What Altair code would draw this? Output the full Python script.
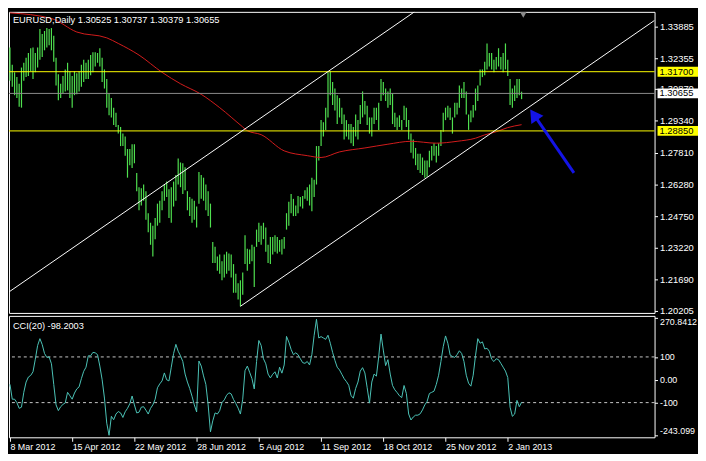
import json
import altair as alt
import pandas as pd

# ---------------- data ----------------
symbol_text = "EURUSD,Daily  1.30525 1.30737 1.30379 1.30655"
cci_text = "CCI(20) -98.2003"

highs = [
    1.3287, 1.3204, 1.3167, 1.3144, 1.3112, 1.3190, 1.3213, 1.3237, 1.3260, 1.3283,
    1.3287, 1.3260, 1.3287, 1.3375, 1.3352, 1.3366, 1.3380, 1.3375, 1.3380, 1.3343,
    1.3237, 1.3158, 1.3112, 1.3149, 1.3181, 1.3213, 1.3172, 1.3149, 1.3172, 1.3163,
    1.3172, 1.3204, 1.3227, 1.3213, 1.3227, 1.3250, 1.3264, 1.3264, 1.3260, 1.3283,
    1.3237, 1.3181, 1.3135, 1.3066, 1.3043, 1.2997, 1.2973, 1.2913, 1.2904, 1.2872,
    1.2858, 1.2798, 1.2798, 1.2821, 1.2821, 1.2683, 1.2614, 1.2609, 1.2627, 1.2595,
    1.2489, 1.2443, 1.2429, 1.2466, 1.2535, 1.2549, 1.2595, 1.2627, 1.2641, 1.2604,
    1.2614, 1.2641, 1.2673, 1.2752, 1.2733, 1.2729, 1.2710, 1.2595, 1.2567, 1.2558,
    1.2549, 1.2521, 1.2687, 1.2673, 1.2660, 1.2627, 1.2595, 1.2535, 1.2350, 1.2327,
    1.2281, 1.2290, 1.2258, 1.2290, 1.2304, 1.2295, 1.2290, 1.2244, 1.2198, 1.2152,
    1.2166, 1.2203, 1.2383, 1.2318, 1.2314, 1.2337, 1.2327, 1.2410, 1.2443, 1.2429,
    1.2443, 1.2420, 1.2337, 1.2374, 1.2374, 1.2383, 1.2374, 1.2360, 1.2364, 1.2374,
    1.2489, 1.2544, 1.2581, 1.2558, 1.2526, 1.2572, 1.2567, 1.2572, 1.2600, 1.2614,
    1.2627, 1.2660, 1.2650, 1.2812, 1.2812, 1.2937, 1.2927, 1.2997, 1.3167, 1.3172,
    1.3121, 1.3089, 1.3057, 1.3043, 1.2997, 1.2964, 1.2937, 1.2918, 1.2918, 1.2904,
    1.2964, 1.2937, 1.3010, 1.3075, 1.3029, 1.3006, 1.2950, 1.2950, 1.2997, 1.2997,
    1.3020, 1.3135, 1.3121, 1.3089, 1.3075, 1.3089, 1.3066, 1.2973, 1.2950, 1.2960,
    1.2937, 1.3006, 1.2997, 1.2937, 1.2872, 1.2844, 1.2803, 1.2775, 1.2775, 1.2757,
    1.2743, 1.2743, 1.2789, 1.2812, 1.2826, 1.2812, 1.2826, 1.2890, 1.2973, 1.2997,
    1.3006, 1.2997, 1.2950, 1.3020, 1.3020, 1.3103, 1.3089, 1.3121, 1.3075, 1.2964,
    1.2983, 1.3010, 1.3089, 1.3103, 1.3181, 1.3181, 1.3218, 1.3306, 1.3260, 1.3260,
    1.3227, 1.3241, 1.3283, 1.3241, 1.3260, 1.3306, 1.3227, 1.3135, 1.3089, 1.3103,
    1.3135, 1.3135, 1.30737,
]

lows = [
    1.3126, 1.3098, 1.3057, 1.3043, 1.3001, 1.2997, 1.3126, 1.3144, 1.3149, 1.3172,
    1.3135, 1.3167, 1.3190, 1.3227, 1.3241, 1.3273, 1.3287, 1.3297, 1.3273, 1.3218,
    1.3103, 1.3033, 1.3043, 1.3066, 1.3075, 1.3080, 1.3043, 1.2997, 1.3057, 1.3061,
    1.3075, 1.3098, 1.3121, 1.3135, 1.3135, 1.3153, 1.3167, 1.3195, 1.3213, 1.3195,
    1.3121, 1.3089, 1.2997, 1.2960, 1.2950, 1.2913, 1.2904, 1.2872, 1.2812, 1.2812,
    1.2766, 1.2660, 1.2720, 1.2706, 1.2729, 1.2595, 1.2503, 1.2526, 1.2549, 1.2457,
    1.2397, 1.2337, 1.2281, 1.2364, 1.2429, 1.2443, 1.2503, 1.2549, 1.2567, 1.2466,
    1.2443, 1.2521, 1.2549, 1.2627, 1.2614, 1.2581, 1.2600, 1.2503, 1.2475, 1.2443,
    1.2457, 1.2420, 1.2535, 1.2558, 1.2549, 1.2503, 1.2475, 1.2420, 1.2249, 1.2249,
    1.2212, 1.2198, 1.2166, 1.2180, 1.2198, 1.2212, 1.2180, 1.2106, 1.2106, 1.2074,
    1.2041, 1.2097, 1.2244, 1.2212, 1.2244, 1.2258, 1.2134, 1.2327, 1.2350, 1.2337,
    1.2364, 1.2304, 1.2249, 1.2244, 1.2290, 1.2304, 1.2295, 1.2304, 1.2290, 1.2318,
    1.2410, 1.2429, 1.2489, 1.2475, 1.2475, 1.2489, 1.2521, 1.2512, 1.2558, 1.2549,
    1.2526, 1.2498, 1.2567, 1.2627, 1.2743, 1.2812, 1.2858, 1.2890, 1.2950, 1.3057,
    1.3010, 1.2983, 1.2918, 1.2950, 1.2918, 1.2844, 1.2858, 1.2844, 1.2826, 1.2812,
    1.2858, 1.2844, 1.2918, 1.2950, 1.2964, 1.2913, 1.2872, 1.2858, 1.2918, 1.2937,
    1.2890, 1.3029, 1.3057, 1.3029, 1.2997, 1.3010, 1.2918, 1.2904, 1.2890, 1.2904,
    1.2890, 1.2937, 1.2904, 1.2844, 1.2780, 1.2752, 1.2720, 1.2697, 1.2683, 1.2673,
    1.2660, 1.2665, 1.2710, 1.2743, 1.2766, 1.2733, 1.2766, 1.2812, 1.2881, 1.2937,
    1.2950, 1.2937, 1.2872, 1.2950, 1.2964, 1.2997, 1.3043, 1.3043, 1.2964, 1.2890,
    1.2927, 1.2950, 1.2983, 1.3029, 1.3103, 1.3144, 1.3153, 1.3181, 1.3195, 1.3181,
    1.3167, 1.3181, 1.3195, 1.3181, 1.3167, 1.3181, 1.3149, 1.3010, 1.2997, 1.3029,
    1.3043, 1.3057, 1.30379,
]

cci = [
    -20, -85, -85, -100, -125, -120, -55, -10, 12, 19,
    35, 90, 150, 180, 154, 115, 98, 100, 70, -20,
    -110, -135, -118, -108, -101, -55, -70, -85, -58, -40,
    -31, 5, 37, 55, 105, 105, 120, 118, 110, 60,
    0, -80, -190, -243, -160, -175, -150, -139, -145, -165,
    -140, -125, -105, -71, -110, -145, -142, -120, -118, -133,
    -150, -125, -110, -85, -35, -18, -5, 30, 0, -5,
    55, 115, 155, 125, 105, 80, 25, -10, -38, -72,
    -110, -141, 82, 60, 17, -20, -110, -228, -180, -145,
    -150, -135, -100, -88, -68, -57, -62, -86, -104, -124,
    -150, -85, 40, 60, 33, 5, -40, 80, 172, 150,
    92, 70, 25, 8, 24, 35, 8, 55, 29, 65,
    190, 165, 133, 110, 118, 110, 92, 75, 72, 80,
    65, 110, 195, 265, 183, 189, 183, 177, 195, 160,
    120, 85, 55, 43, 24, 5, -8, -24, -70, -80,
    -38, -10, 38, 53, 30, -35, -102, -10, 25, 16,
    100, 200, 130, 62, 88, 25, -25, -44, -56, -70,
    -78, -25, -60, -150, -176, -163, -155, -155, -149, -132,
    -110, -95, -60, -55, -50, -20, 20, 80, 145, 192,
    160, 108, 102, 98, 110, 127, 115, 80, 20, -15,
    -28, 20, 105, 180, 160, 166, 135, 138, 125, 90,
    80, 92, 88, 72, 55, 38, 10, -120, -160, -150,
    -90, -118, -98.2003,
]

ma_bar = [0, 18, 29, 42, 47, 56, 66, 74, 83, 91, 101, 103, 109, 119, 129, 135,
          143, 154, 164, 174, 185, 194, 202, 206, 211, 216, 222]
ma_val = [1.3453, 1.3426, 1.3361, 1.3333, 1.3306, 1.3250, 1.3167, 1.3112, 1.3061,
          1.2997, 1.2904, 1.2886, 1.2867, 1.2789, 1.2766, 1.2757, 1.2784, 1.2803,
          1.2821, 1.2835, 1.2826, 1.2835, 1.2850, 1.2866, 1.2881, 1.2901, 1.2915]

date_bars = [0, 27, 54, 81, 108, 135, 162, 189, 216]
date_labels = ["8 Mar 2012", "15 Apr 2012", "22 May 2012", "28 Jun 2012", "5 Aug 2012",
               "11 Sep 2012", "18 Oct 2012", "25 Nov 2012", "2 Jan 2013"]

price_ticks = [1.33885, 1.32355, 1.30870, 1.29340, 1.27810, 1.26280, 1.24750,
               1.23220, 1.21690, 1.20205]
yellow_levels = [1.31700, 1.28850]
bid_level = 1.30655

cci_ticks = [-243.099, -100, 0, 100, 270.8412]
cci_levels = [100, -100]

# trend channel anchors (bar, price): start and end of each line
channel_bar_start = [-0.42, 100]
channel_price_start = [1.2110, 1.2041]
channel_bar_end = [175.5, 279.7]
channel_price_end = [1.3458, 1.3417]

# blue arrow: tail and head (bar, price)
arrow_bar = [244.7, 227.3]
arrow_price = [1.2683, 1.2963]

x_domain = [-0.42, 279.7]
price_domain = [1.2009, 1.3458]
cci_domain = [-251.9, 279.7]

assert len(highs) == len(lows) == len(cci)

# ---------------- styling ----------------
W, H1, H2 = 654, 305, 123
FONT = "Liberation Sans"
GREEN = "#4fe04f"
RED = "#d41c1c"
BLUE = "#1414e6"
CCI_COLOR = "#4cc4b8"
EXT = 60          # filler marks fix the drawing's bounds at -EXT (left/top)
RIGHT_END = W + 110
BOTTOM_EXTRA = 60

xs = alt.Scale(domain=x_domain, nice=False, zero=False)
ys = alt.Scale(domain=price_domain, nice=False, zero=False)
cs = alt.Scale(domain=cci_domain, nice=False, zero=False)

price_axis = alt.Axis(orient="right", values=price_ticks, format=".5f", title=None,
                      grid=False, domain=False, tickColor="white", tickSize=3,
                      labelColor="white", labelFont=FONT, labelFontSize=9.5,
                      labelPadding=2, labelOverlap=False)


def PY(field):
    return alt.Y(field, scale=ys, axis=price_axis)


one = pd.DataFrame({"t": [""]})

# black filler marks outside the visible area: they pin the drawing's bounds so
# the padding below can crop it to exactly the window size
fill_tl = alt.Chart(one).mark_rect(color="black", clip=False).encode(
    x=alt.value(-EXT), x2=alt.value(-EXT + 1), y=alt.value(-EXT), y2=alt.value(-EXT + 1))
fill_r = alt.Chart(one).mark_rect(color="black", clip=False).encode(
    x=alt.value(RIGHT_END - 1), x2=alt.value(RIGHT_END), y=alt.value(-EXT),
    y2=alt.value(-EXT + 1))

bars_df = pd.DataFrame({"bar": list(range(len(highs))), "high": highs, "low": lows})
bars = alt.Chart(bars_df).mark_rule(color=GREEN, strokeWidth=1.2).encode(
    x=alt.X("bar:Q", scale=xs, axis=None),
    y=PY("high:Q"),
    y2="low:Q",
)

ma = alt.Chart(pd.DataFrame({"bar": ma_bar, "ma": ma_val})).mark_line(
    color=RED, strokeWidth=1, interpolate="monotone").encode(
    x=alt.X("bar:Q", scale=xs, axis=None),
    y=PY("ma:Q"),
)

yellow = alt.Chart(pd.DataFrame({"p": yellow_levels})).mark_rule(
    color="#ffff00", strokeWidth=1).encode(y=PY("p:Q"))

bid = alt.Chart(pd.DataFrame({"p": [bid_level]})).mark_rule(
    color="#8c8c8c", strokeWidth=1).encode(y=PY("p:Q"))

chan_df = pd.DataFrame({"x0": channel_bar_start, "y0": channel_price_start,
                        "x1": channel_bar_end, "y1": channel_price_end})
channels = alt.Chart(chan_df).mark_rule(color="white", strokeWidth=1, clip=True).encode(
    x=alt.X("x0:Q", scale=xs, axis=None), x2="x1:Q",
    y=PY("y0:Q"), y2="y1:Q",
)

arrow_df = pd.DataFrame({"x0": [arrow_bar[0]], "y0": [arrow_price[0]],
                         "x1": [arrow_bar[1]], "y1": [arrow_price[1]]})
shaft = alt.Chart(arrow_df).mark_rule(color=BLUE, strokeWidth=3).encode(
    x=alt.X("x0:Q", scale=xs, axis=None), x2="x1:Q",
    y=PY("y0:Q"), y2="y1:Q",
)
head = alt.Chart(arrow_df).mark_point(shape="triangle-up", filled=True, size=220,
                                      angle=325.7, color=BLUE, opacity=1).encode(
    x=alt.X("x1:Q", scale=xs, axis=None),
    y=PY("y1:Q"),
)

tags_df = pd.DataFrame({
    "p": [yellow_levels[0], bid_level, yellow_levels[1]],
    "bg": ["#ffff00", "#ffffff", "#ffff00"],
})
tags_df["t"] = [f"{v:.5f}" for v in tags_df["p"]]
tag_box = alt.Chart(tags_df).mark_rect(clip=False, yOffset=-5, y2Offset=5).encode(
    x=alt.value(W + 3), x2=alt.value(W + 46),
    y=PY("p:Q"), y2=alt.Y2("p:Q"),
    color=alt.Color("bg:N", scale=None, legend=None),
)
tag_text = alt.Chart(tags_df).mark_text(align="left", baseline="middle", font=FONT,
                                        fontSize=9.5, color="black", clip=False).encode(
    x=alt.value(W + 5), y=PY("p:Q"), text="t:N",
)

title_txt = alt.Chart(pd.DataFrame({"t": [symbol_text]})).mark_text(
    align="left", baseline="middle", font=FONT, fontSize=9.4, color="white").encode(
    x=alt.value(4), y=alt.value(8), text="t:N")

shift_marker = alt.Chart(one).mark_point(
    shape="triangle-down", filled=True, color="#8a8a8a", size=45, opacity=1).encode(
    x=alt.value(521), y=alt.value(3))

main = alt.layer(fill_tl, fill_r, bars, ma, yellow, bid, channels, shaft, head, tag_box,
                 tag_text, title_txt, shift_marker).properties(width=W, height=H1)

# ---------------- CCI panel ----------------
date_expr = f"{json.dumps(date_labels)}[indexof({json.dumps(date_bars)}, datum.value)]"
x_axis = alt.Axis(orient="bottom", values=date_bars, labelExpr=date_expr, title=None,
                  grid=False, domain=False, tickColor="white", tickSize=4,
                  labelColor="white", labelFont=FONT, labelFontSize=9, labelAlign="left",
                  labelPadding=1, labelFlush=False, labelOverlap=False)
cci_axis = alt.Axis(orient="right", values=cci_ticks, title=None, grid=False,
                    domain=False, tickColor="white", tickSize=3, labelColor="white",
                    labelFont=FONT, labelFontSize=9, labelPadding=2, labelFlush=10,
                    labelOverlap=False,
                    labelExpr="datum.value == 0 ? '0.00' : '' + datum.value")

cci_df = pd.DataFrame({"bar": list(range(len(cci))), "cci": cci})
cci_line = alt.Chart(cci_df).mark_line(color=CCI_COLOR, strokeWidth=1).encode(
    x=alt.X("bar:Q", scale=xs, axis=x_axis),
    y=alt.Y("cci:Q", scale=cs, axis=cci_axis),
)
cci_lv = alt.Chart(pd.DataFrame({"v": cci_levels})).mark_rule(
    color="#c8c8c8", strokeDash=[3, 3], strokeWidth=1).encode(
    y=alt.Y("v:Q", scale=cs, axis=cci_axis))
cci_lbl = alt.Chart(pd.DataFrame({"t": [cci_text]})).mark_text(
    align="left", baseline="middle", font=FONT, fontSize=9.3, color="white").encode(
    x=alt.value(4), y=alt.value(10), text="t:N")
fill_b = alt.Chart(one).mark_rect(color="black", clip=False).encode(
    x=alt.value(0), x2=alt.value(1), y=alt.value(H2 + BOTTOM_EXTRA - 1),
    y2=alt.value(H2 + BOTTOM_EXTRA))

cci_chart = alt.layer(fill_b, cci_lv, cci_line, cci_lbl).properties(width=W, height=H2)

# bounds: x in [-EXT, RIGHT_END], y in [-EXT, H1 + 3 + H2 + BOTTOM_EXTRA]
# crop to 697 x 444 with the plot's top-left corner at the drawing's origin
SVG_W, SVG_H = 697, 444
pad = {
    "left": -EXT,
    "top": -EXT,
    "right": SVG_W - RIGHT_END,
    "bottom": SVG_H - (H1 + 3 + H2 + BOTTOM_EXTRA),
}

chart = alt.vconcat(main, cci_chart, spacing=3, bounds="flush").properties(
    padding=pad, background="#000000",
).configure_view(stroke="white", strokeWidth=1)

chart.save("out.html", embed_options={"renderer": "svg", "actions": False})
